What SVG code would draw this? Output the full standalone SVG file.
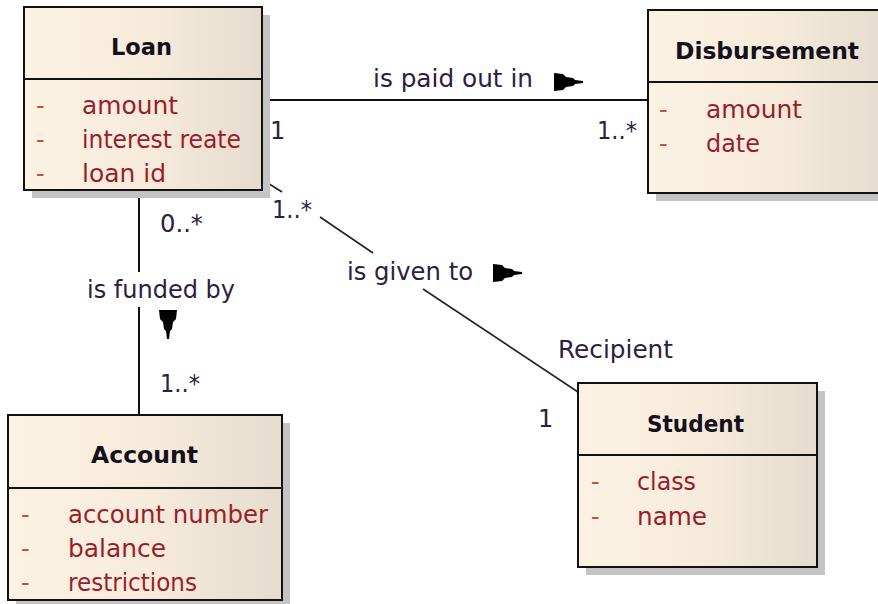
<svg xmlns="http://www.w3.org/2000/svg" xmlns:xlink="http://www.w3.org/1999/xlink" width="878" height="604" viewBox="0 0 878 604">
  <style>
    .box { fill: url(#classFill); stroke: #111; stroke-width: 2; }
    .shadow { fill: #c4c4c4; }
    .divider { stroke: #111; stroke-width: 2; }
    .title { font-family: "DejaVu Sans", Verdana, sans-serif; font-weight: bold; font-size: 23px; fill: #14101c; }
    .attr { font-family: "DejaVu Sans", Verdana, sans-serif; font-size: 24px; fill: #9a1e2a; }
    .vis { font-family: "DejaVu Sans", Verdana, sans-serif; font-size: 24px; fill: #c8502a; }
    .label { font-family: "DejaVu Sans", Verdana, sans-serif; font-size: 24px; fill: #2d2040; }
    .conn { stroke: #111; stroke-width: 2; fill: none; }
    .diag { stroke: #222; stroke-width: 1.6; fill: none; }
    .dir { fill: #000; }
  </style>
  <defs>
    <linearGradient id="classFill" x1="0" y1="0" x2="1" y2="0">
      <stop offset="0" stop-color="#fcf2e4"/>
      <stop offset="0.5" stop-color="#f7ecdc"/>
      <stop offset="1" stop-color="#e5dccf"/>
    </linearGradient>
    <!-- association direction marker, pointing right, origin at its left edge -->
    <path id="dirArrow" class="dir" d="M0,-9 L9,-8 L12,-5 L19,-4 L21,-2 L29,-1 L29,1 L21,2 L19,4 L12,5 L9,8 L0,9 Z"/>
  </defs>

  <rect width="878" height="604" fill="#fff"/>

  <!-- associations -->
  <g id="connectors">
    <!-- Loan -> Disbursement -->
    <line class="conn" x1="262" y1="100" x2="648" y2="100"/>
    <text class="label" x="373" y="87" textLength="160" lengthAdjust="spacingAndGlyphs">is paid out in</text>
    <use xlink:href="#dirArrow" transform="translate(554,82)"/>
    <text class="label" x="270" y="139">1</text>
    <text class="label" x="597" y="139" textLength="40" lengthAdjust="spacingAndGlyphs">1..*</text>

    <!-- Loan -> Account -->
    <line class="conn" x1="139" y1="190" x2="139" y2="272"/>
    <line class="conn" x1="139" y1="307" x2="139" y2="415"/>
    <text class="label" x="87" y="298" textLength="148" lengthAdjust="spacingAndGlyphs">is funded by</text>
    <use xlink:href="#dirArrow" transform="translate(168,310) rotate(90)"/>
    <text class="label" x="160" y="232" textLength="43" lengthAdjust="spacingAndGlyphs">0..*</text>
    <text class="label" x="160" y="392" textLength="40" lengthAdjust="spacingAndGlyphs">1..*</text>

    <!-- Loan -> Student -->
    <line class="diag" x1="263" y1="180" x2="282" y2="192"/>
    <line class="diag" x1="320" y1="217" x2="373" y2="253"/>
    <line class="diag" x1="423" y1="289" x2="578" y2="392"/>
    <text class="label" x="347" y="280" textLength="126" lengthAdjust="spacingAndGlyphs">is given to</text>
    <use xlink:href="#dirArrow" transform="translate(493,273)"/>
    <text class="label" x="272" y="218" textLength="40" lengthAdjust="spacingAndGlyphs">1..*</text>
    <text class="label" x="558" y="358" textLength="115" lengthAdjust="spacingAndGlyphs">Recipient</text>
    <text class="label" x="538" y="427">1</text>
  </g>

  <!-- Loan -->
  <g id="loan">
    <rect class="shadow" x="32" y="15" width="238" height="183"/>
    <rect class="box" x="24" y="7" width="238" height="183"/>
    <line class="divider" x1="24" y1="79" x2="262" y2="79"/>
    <text class="title" x="111" y="55" textLength="61" lengthAdjust="spacingAndGlyphs">Loan</text>
    <text class="vis" x="36" y="114">-</text>
    <text class="attr" x="82" y="114" textLength="96" lengthAdjust="spacingAndGlyphs">amount</text>
    <text class="vis" x="36" y="148">-</text>
    <text class="attr" x="82" y="148" textLength="159" lengthAdjust="spacingAndGlyphs">interest reate</text>
    <text class="vis" x="36" y="182">-</text>
    <text class="attr" x="82" y="182" textLength="84" lengthAdjust="spacingAndGlyphs">loan id</text>
  </g>

  <!-- Disbursement -->
  <g id="disbursement">
    <rect class="shadow" x="656" y="18" width="238" height="183"/>
    <rect class="box" x="648" y="10" width="238" height="183"/>
    <line class="divider" x1="648" y1="82" x2="886" y2="82"/>
    <text class="title" x="675" y="59" textLength="184" lengthAdjust="spacingAndGlyphs">Disbursement</text>
    <text class="vis" x="659" y="118">-</text>
    <text class="attr" x="706" y="118" textLength="96" lengthAdjust="spacingAndGlyphs">amount</text>
    <text class="vis" x="659" y="152">-</text>
    <text class="attr" x="706" y="152" textLength="54" lengthAdjust="spacingAndGlyphs">date</text>
  </g>

  <!-- Account -->
  <g id="account">
    <rect class="shadow" x="16" y="423" width="274" height="185"/>
    <rect class="box" x="8" y="415" width="274" height="185"/>
    <line class="divider" x1="8" y1="488" x2="282" y2="488"/>
    <text class="title" x="91" y="463" textLength="107" lengthAdjust="spacingAndGlyphs">Account</text>
    <text class="vis" x="21" y="523">-</text>
    <text class="attr" x="68" y="523" textLength="200" lengthAdjust="spacingAndGlyphs">account number</text>
    <text class="vis" x="21" y="557">-</text>
    <text class="attr" x="68" y="557" textLength="98" lengthAdjust="spacingAndGlyphs">balance</text>
    <text class="vis" x="21" y="591">-</text>
    <text class="attr" x="68" y="591" textLength="129" lengthAdjust="spacingAndGlyphs">restrictions</text>
  </g>

  <!-- Student -->
  <g id="student">
    <rect class="shadow" x="586" y="391" width="239" height="184"/>
    <rect class="box" x="578" y="383" width="239" height="184"/>
    <line class="divider" x1="578" y1="455" x2="817" y2="455"/>
    <text class="title" x="647" y="432" textLength="97" lengthAdjust="spacingAndGlyphs">Student</text>
    <text class="vis" x="591" y="490">-</text>
    <text class="attr" x="637" y="490" textLength="59" lengthAdjust="spacingAndGlyphs">class</text>
    <text class="vis" x="591" y="525">-</text>
    <text class="attr" x="637" y="525" textLength="70" lengthAdjust="spacingAndGlyphs">name</text>
  </g>
</svg>
